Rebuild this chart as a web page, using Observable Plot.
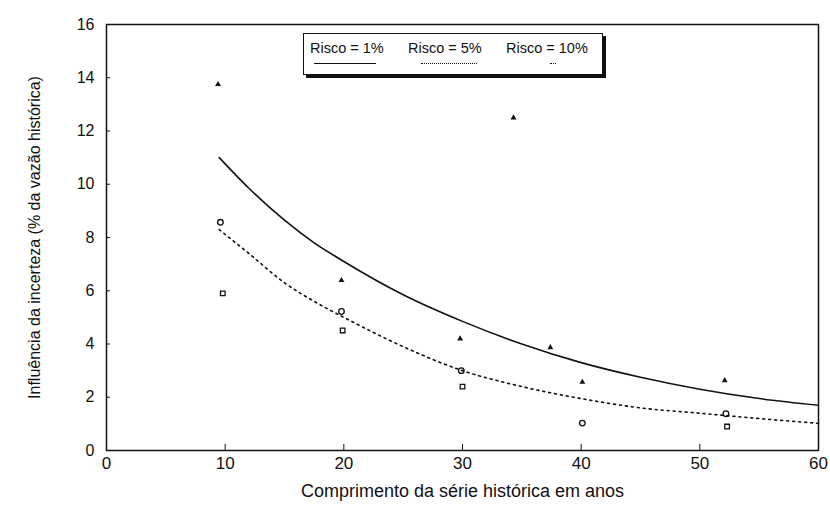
<!DOCTYPE html>
<html><head><meta charset="utf-8">
<script src="https://cdn.jsdelivr.net/npm/d3@7"></script>
<script src="https://cdn.jsdelivr.net/npm/@observablehq/plot@0.6"></script>
<style>
body{margin:0;background:#fff;}
#wrap{position:relative;width:830px;height:505px;font-family:"Liberation Sans",Arial,sans-serif;color:#111;}
.legend{position:absolute;left:303px;top:33px;width:298px;height:40px;border:1px solid #111;box-shadow:3px 3px 0 #111;background:#fff;font-size:14.5px;}
.legend .it{position:absolute;top:6px;white-space:nowrap;}
.legend .sw{position:absolute;top:29px;height:0;}
</style></head><body><div id="wrap"></div>
<script>
// Risco = 1% (observed points)
const r1Years = [9.4, 19.8, 29.8, 34.3, 37.4, 40.1, 52.1];
const r1Vals  = [13.75, 6.39, 4.2, 12.5, 3.87, 2.57, 2.63];
// Risco = 5% (observed points)
const r5Years = [9.6, 19.8, 29.9, 40.1, 52.2];
const r5Vals  = [8.57, 5.22, 3.0, 1.03, 1.38];
// Risco = 10% (observed points)
const r10Years = [9.8, 19.9, 30.0, 52.3];
const r10Vals  = [5.9, 4.51, 2.4, 0.9];
// fitted curves
const fitYears = [9.5, 12, 15, 17.5, 20, 25, 30, 35, 40, 45, 50, 55, 60];
const fit1Vals = [11.0, 9.85, 8.65, 7.8, 7.1, 5.85, 4.85, 4.0, 3.3, 2.75, 2.3, 1.95, 1.7];
const fit5Vals = [8.3, 7.4, 6.3, 5.6, 5.0, 3.9, 3.0, 2.4, 1.95, 1.6, 1.4, 1.2, 1.02];
const xTicks = [0, 10, 20, 30, 40, 50, 60];
const yTicks = [0, 2, 4, 6, 8, 10, 12, 14, 16];
const legendLabels = ["Risco = 1%", "Risco = 5%", "Risco = 10%"];

const pts = (xs, ys) => xs.map((x, i) => ({x, y: ys[i]}));
const fit1 = pts(fitYears, fit1Vals);
const fit5 = pts(fitYears, fit5Vals);

const chart = Plot.plot({
  width: 830, height: 505,
  marginLeft: 106, marginRight: 12, marginTop: 24, marginBottom: 55,
  style: {fontFamily: '"Liberation Sans", Arial, sans-serif', fontSize: "16px", color: "#111", background: "#fff"},
  x: {domain: [0, 60]},
  y: {domain: [0, 16]},
  marks: [
    Plot.frame({stroke: "#111", strokeWidth: 1.5}),
    Plot.axisX({ticks: xTicks, tickSize: -6, tickPadding: 12, fontSize: 17, label: null}),
    Plot.axisY({ticks: yTicks, tickSize: -4, tickPadding: 16, fontSize: 16, label: null}),
    Plot.axisX({ticks: [], tickSize: 0, fontSize: 18,
      label: "Comprimento da série histórica em anos", labelAnchor: "center", labelOffset: 46, labelArrow: "none"}),
    Plot.axisY({ticks: [], tickSize: 0, fontSize: 16,
      label: "Influência da incerteza (% da vazão histórica)", labelAnchor: "center", labelOffset: 78, labelArrow: "none"}),
    Plot.line(fit1, {x: "x", y: "y", curve: "monotone-x", stroke: "#111", strokeWidth: 1.6}),
    Plot.line(fit5, {x: "x", y: "y", curve: "monotone-x", stroke: "#111", strokeWidth: 1.6, strokeDasharray: "2,4"}),
    Plot.dot(pts(r1Years, r1Vals), {x: "x", y: "y", symbol: "triangle", r: 2.2, fill: "#111"}),
    Plot.dot(pts(r5Years, r5Vals), {x: "x", y: "y", symbol: "circle", r: 2.8, stroke: "#111", strokeWidth: 1.3}),
    Plot.dot(pts(r10Years, r10Vals), {x: "x", y: "y", symbol: "square", r: 2.6, stroke: "#111", strokeWidth: 1.3})
  ]
});
const wrap = document.getElementById("wrap");
wrap.appendChild(chart);

const lg = document.createElement("div");
lg.className = "legend";
const pos = [6, 104, 202];
const swatches = [
  {left: 10, width: 62, style: "border-top:1.5px solid #111"},
  {left: 117, width: 56, style: "border-top:1.5px dotted #111"},
  {left: 246, width: 6, style: "border-top:1.5px dotted #111"}
];
legendLabels.forEach((t, i) => {
  const d = document.createElement("div");
  d.className = "it"; d.style.left = pos[i] + "px"; d.textContent = t;
  lg.appendChild(d);
  const s = document.createElement("div");
  s.className = "sw"; s.style.left = swatches[i].left + "px"; s.style.width = swatches[i].width + "px";
  s.style.cssText += ";" + swatches[i].style;
  lg.appendChild(s);
});
wrap.appendChild(lg);
</script></body></html>
